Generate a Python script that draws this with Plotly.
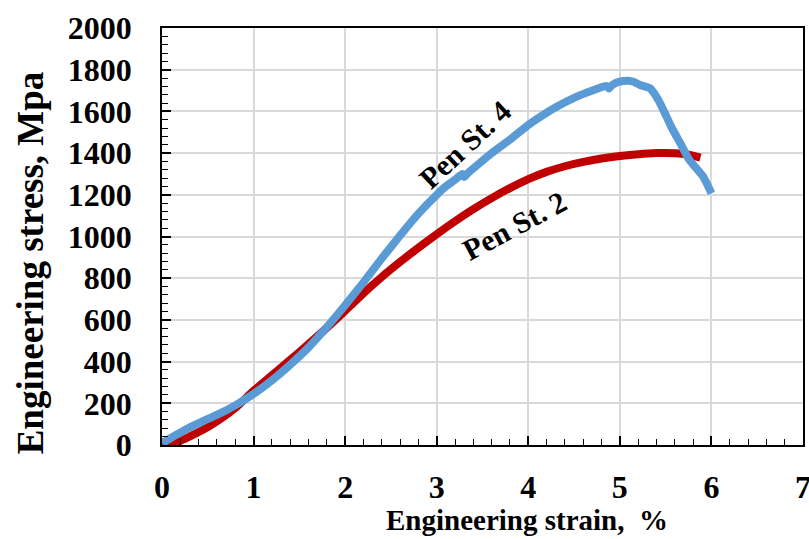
import plotly.graph_objects as go

# Pen St. 2 (red)
strain_st2 = [0.0, 0.1, 0.2, 0.3, 0.4, 0.5, 0.65, 0.8, 1.0, 1.2, 1.4, 1.6, 1.8, 2.0,
              2.2, 2.4, 2.6, 2.8, 3.0, 3.2, 3.4, 3.6, 3.8, 4.0, 4.2, 4.4, 4.6, 4.8,
              5.0, 5.2, 5.4, 5.6, 5.75, 5.88]
stress_st2 = [0, 6, 20, 40, 62, 86, 128, 178, 260, 334, 408, 484, 562, 644,
              728, 806, 878, 946, 1011, 1073, 1131, 1184, 1232, 1275, 1310, 1337, 1358, 1374,
              1386, 1395, 1400, 1399, 1392, 1378]

# Pen St. 4 (blue)
strain_st4 = [0.0, 0.05, 0.14, 0.25, 0.36, 0.5, 0.65, 0.8, 1.0, 1.2, 1.4, 1.6, 1.8, 2.0,
              2.2, 2.4, 2.6, 2.8, 3.0, 3.1, 3.2, 3.28, 3.3, 3.33, 3.45, 3.6, 3.8, 4.0,
              4.15, 4.3, 4.5, 4.7, 4.85, 4.88, 4.92, 5.0, 5.09, 5.15, 5.22, 5.33, 5.42,
              5.51, 5.56, 5.66, 5.76, 5.91, 6.0]
stress_st4 = [10, 22, 45, 72, 96, 125, 155, 190, 245, 310, 385, 468, 565, 670,
              780, 895, 1005, 1110, 1200, 1240, 1272, 1300, 1285, 1300, 1345, 1400, 1465, 1535,
              1580, 1620, 1665, 1700, 1722, 1710, 1728, 1743, 1747, 1742, 1727, 1711, 1655,
              1575, 1527, 1447, 1367, 1287, 1207]

labels = ["Pen St. 2", "Pen St. 4"]
label_pos = [(3.85, 1055, -28), (3.31, 1439, -43)]

x_title = "Engineering strain,  %"
y_title = "Engineering stress, Mpa"

FONT = "Liberation Serif, Times New Roman, serif"

fig = go.Figure()
fig.add_trace(go.Scatter(x=strain_st2, y=stress_st2, mode="lines",
                         line=dict(color="#C00000", width=8, shape="spline", smoothing=0.8),
                         name=labels[0], showlegend=False))
fig.add_trace(go.Scatter(x=strain_st4, y=stress_st4, mode="lines",
                         line=dict(color="#5B9BD5", width=8, shape="spline", smoothing=0.5),
                         name=labels[1], showlegend=False))

for text, (ax, ay, ang) in zip(labels, label_pos):
    fig.add_annotation(x=ax, y=ay, xref="x", yref="y", text="<b>%s</b>" % text,
                       showarrow=False, textangle=ang,
                       font=dict(family=FONT, size=30, color="black"))

# axis titles (placed as in the reference, off-centre)
fig.add_annotation(x=0.569, y=-0.18, xref="paper", yref="paper", text="<b>%s</b>" % x_title,
                   showarrow=False, xanchor="center", yanchor="middle",
                   font=dict(family=FONT, size=29, color="black"))
fig.add_annotation(x=-0.206, y=0.438, xref="paper", yref="paper", text="<b>%s</b>" % y_title,
                   showarrow=False, xanchor="center", yanchor="middle", textangle=-90,
                   font=dict(family=FONT, size=37, color="black"))

fig.update_xaxes(range=[0, 7], dtick=1, tick0=0, showgrid=True, gridcolor="#d9d9d9", gridwidth=1.5,
                 showline=True, linecolor="black", linewidth=1.5, mirror=True,
                 ticks="inside", ticklen=9, tickwidth=1.5, tickcolor="black",
                 minor=dict(dtick=0.2, ticks="inside", ticklen=6, tickwidth=1.2, tickcolor="black", showgrid=False),
                 tickfont=dict(family=FONT, size=32, color="black", weight="bold"),
                 ticklabelstandoff=13, ticklabeloverflow="allow", zeroline=False)
fig.update_yaxes(range=[0, 2000], dtick=200, tick0=0, showgrid=True, gridcolor="#d9d9d9", gridwidth=1.5,
                 showline=True, linecolor="black", linewidth=1.5, mirror=True,
                 ticks="inside", ticklen=9, tickwidth=1.5, tickcolor="black",
                 minor=dict(dtick=40, ticks="inside", ticklen=6, tickwidth=1.2, tickcolor="black", showgrid=False),
                 tickfont=dict(family=FONT, size=32, color="black", weight="bold"),
                 ticklabelstandoff=22, ticklabeloverflow="allow", zeroline=False)

fig.update_layout(width=809, height=539, margin=dict(l=162, r=6, t=28, b=94, autoexpand=False),
                  plot_bgcolor="white", paper_bgcolor="white")

fig.write_html("out.html", config={"displayModeBar": False},
               post_script="document.body.style.margin='0';")
